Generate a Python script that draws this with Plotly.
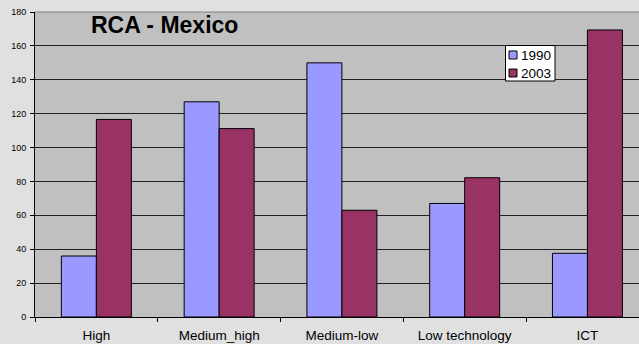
import plotly.graph_objects as go

categories = ["High", "Medium_high", "Medium-low", "Low technology", "ICT"]
values_1990 = [36, 127, 150, 67, 37.6]
values_2003 = [116.6, 111.2, 63, 82.2, 169.4]
y_ticks = [0, 20, 40, 60, 80, 100, 120, 140, 160, 180]
series_names = ["1990", "2003"]
series_colors = ["#9999FF", "#993366"]

L, T, W, H = 35, 12, 604, 305


def px(x):
    return (x - L) / W


def py(y):
    return (T + H - y) / H


fig = go.Figure()
for name, vals, col in zip(series_names, [values_1990, values_2003], series_colors):
    fig.add_trace(go.Bar(x=categories, y=vals, name=name,
                         marker=dict(color=col, line=dict(color="#000000", width=1))))

FONT = "Liberation Sans, Arial, sans-serif"
fig.update_layout(
    width=639, height=344,
    margin=dict(l=L, r=0, t=T, b=344 - T - H),
    paper_bgcolor="#e0e0e0",
    plot_bgcolor="#C0C0C0",
    barmode="group", bargap=0.43, bargroupgap=0,
    font=dict(family=FONT, color="#000000"),
    showlegend=False,
)
fig.add_annotation(text="<b>RCA - Mexico</b>", xref="paper", yref="paper",
                   x=px(164), y=py(24.5), xanchor="center", yanchor="middle",
                   showarrow=False, font=dict(size=23, family=FONT))
fig.add_shape(type="line", xref="paper", yref="paper", x0=0, x1=1, y0=1, y1=1,
              line=dict(color="#808080", width=1))

# legend box
fig.add_shape(type="rect", xref="paper", yref="paper",
              x0=px(505.5), x1=px(555), y0=py(81), y1=py(45.5),
              fillcolor="#ffffff", line=dict(color="#000000", width=1))
for i, (name, col) in enumerate(zip(series_names, series_colors)):
    cy = 55 + i * 18
    fig.add_shape(type="rect", xref="paper", yref="paper",
                  x0=px(509), x1=px(517), y0=py(cy + 4), y1=py(cy - 4),
                  fillcolor=col, line=dict(color="#000000", width=1))
    fig.add_annotation(text=name, xref="paper", yref="paper", x=px(518.5), y=py(cy + 0.5),
                       xanchor="left", yanchor="middle", showarrow=False,
                       font=dict(size=13.5, family=FONT))

fig.update_xaxes(range=[-0.5, 4.42], tickson="boundaries", ticks="outside", ticklen=4,
                 tickcolor="#000000", showline=True, linecolor="#000000", linewidth=1,
                 tickfont=dict(size=13.5), showgrid=False, ticklabelstandoff=6)
fig.update_yaxes(range=[0, 180], tickvals=y_ticks, ticks="outside", ticklen=4,
                 tickcolor="#000000", showline=True, linecolor="#000000", linewidth=1,
                 showgrid=True, gridcolor="#222222", gridwidth=1, zeroline=False,
                 tickfont=dict(size=9), ticklabelstandoff=2)

fig.write_html("out.html", config={"displayModeBar": False},
               post_script="document.body.style.margin='0';document.body.style.overflow='hidden';")
